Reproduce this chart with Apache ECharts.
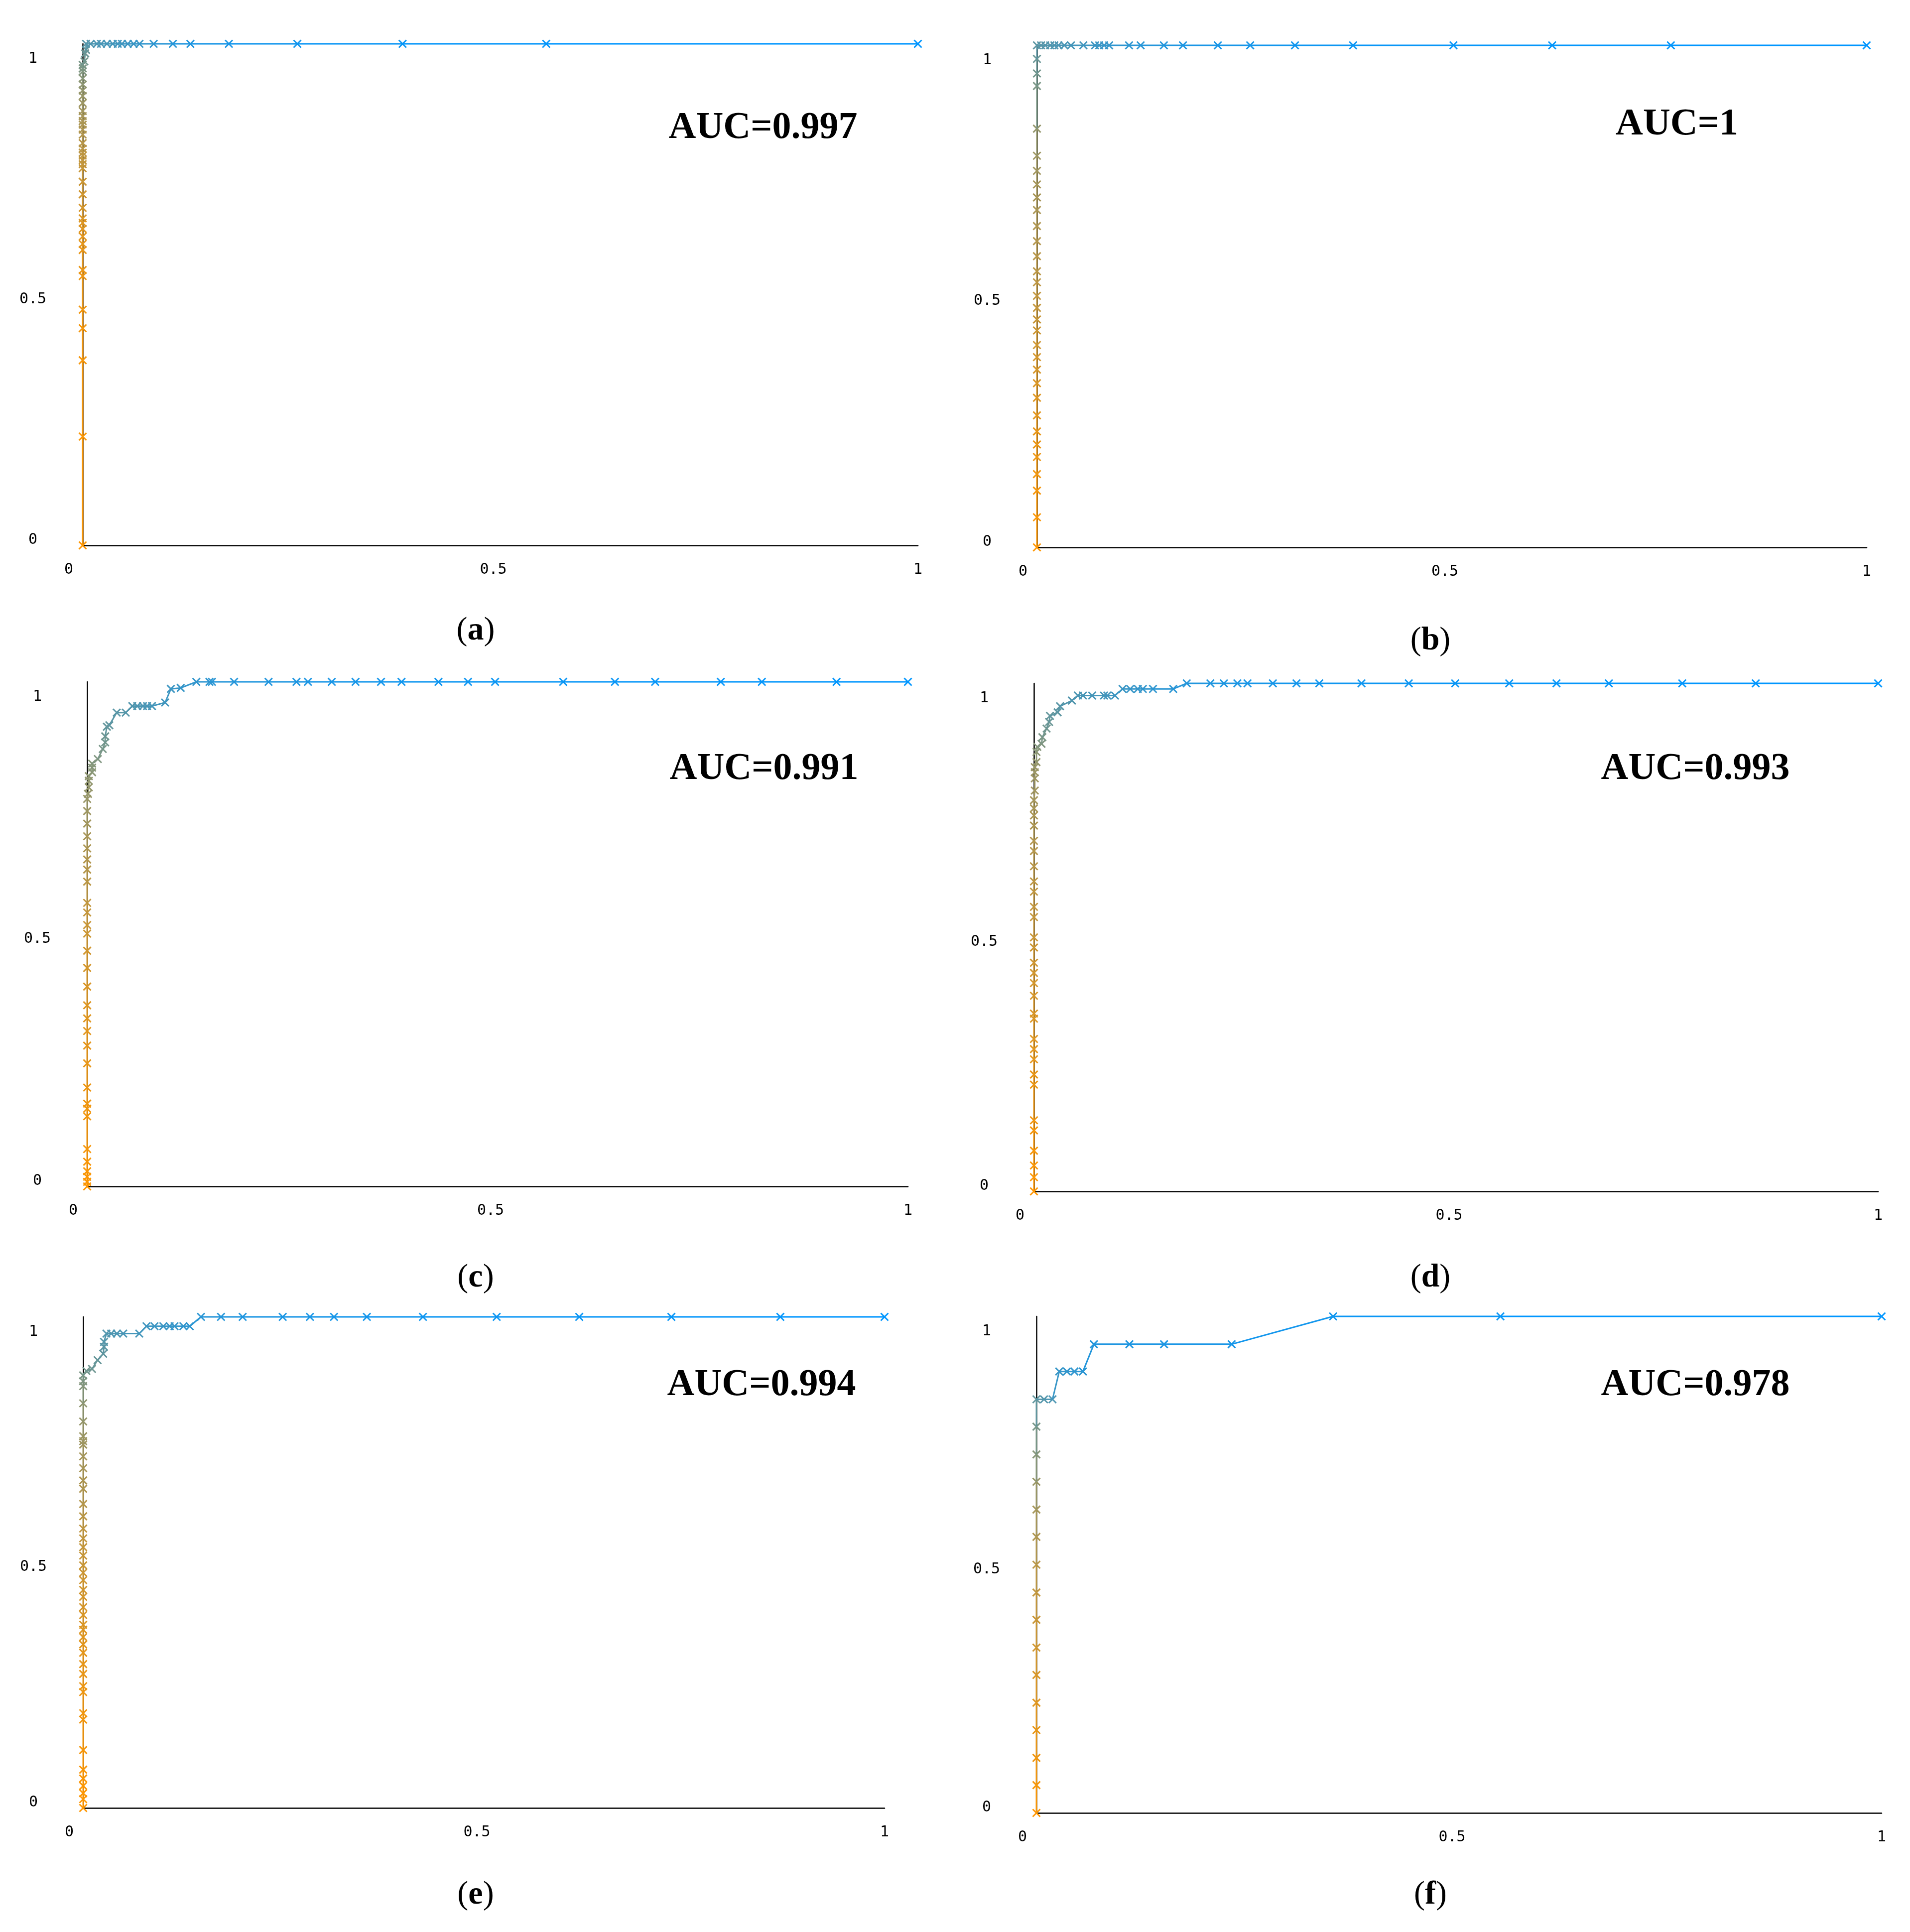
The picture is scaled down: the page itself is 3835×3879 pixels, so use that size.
<!DOCTYPE html>
<html><head><meta charset="utf-8">
<script src="https://cdn.jsdelivr.net/npm/echarts/dist/echarts.min.js"></script>
<style>html,body{margin:0;padding:0;background:#fff}#c{width:3835px;height:3879px}</style>
</head><body><div id="c"></div>
<script>
// ---------------- data ----------------
const aucLabels = ['AUC=0.997','AUC=1','AUC=0.991','AUC=0.993','AUC=0.994','AUC=0.978'];
const panelLetters = ['a','b','c','d','e','f'];
const tickValues = [0, 0.5, 1];

// (a)
const aFpr = [0,0,0,0,0,0,0,0,0,0, 0,0,0,0,0,0,0,0,0,0, 0,0,0,0,0,0,0,0,0,0, 0,0,0,0,0,0,0,
  0.002,0.003,0.004,
  0.004,0.0095,0.017,0.022,0.029,0.036,0.042,0.047,0.054,0.061,0.068,0.085,0.108,0.129,0.175,0.257,0.383,0.555,1];
const aTpr = [0,0.217,0.369,0.433,0.470,0.537,0.549,0.589,0.601,0.616, 0.631,0.643,0.652,0.673,0.700,0.725,0.752,0.760,0.768,0.777,
  0.783,0.791,0.802,0.819,0.829,0.839,0.846,0.856,0.866,0.882, 0.896,0.907,0.919,0.931,0.945,0.951,0.958,
  0.965,0.981,0.988,
  1,1,1,1,1,1,1,1,1,1,1,1,1,1,1,1,1,1,1];
const aThr = [1,0.99,0.97,0.96,0.95,0.93,0.92,0.91,0.90,0.89, 0.88,0.87,0.86,0.84,0.82,0.80,0.78,0.77,0.76,0.75,
  0.74,0.73,0.72,0.70,0.69,0.68,0.67,0.66,0.64,0.62, 0.60,0.58,0.56,0.54,0.51,0.49,0.47,
  0.45,0.42,0.40,
  0.34,0.32,0.30,0.29,0.28,0.27,0.26,0.25,0.24,0.23,0.22,0.19,0.16,0.13,0.10,0.07,0.04,0.02,0];

// (b)
const bFpr = [0,0,0,0,0,0,0,0,0,0, 0,0,0,0,0,0,0,0,0,0, 0,0,0,0,0,0,0,0,0,0, 0,
  0,0.005,0.010,0.016,0.021,0.026,0.033,0.041,0.056,0.070, 0.075,0.081,0.087,0.111,0.125,0.153,0.176,0.218,0.257,0.311,
  0.381,0.502,0.621,0.764,1];
const bTpr = [0,0.06,0.113,0.146,0.18,0.205,0.231,0.263,0.298,0.327, 0.354,0.379,0.403,0.432,0.454,0.477,0.501,0.528,0.55,0.58,
  0.61,0.64,0.672,0.697,0.723,0.750,0.780,0.834,0.919,0.944, 0.973,
  1,1,1,1,1,1,1,1,1,1, 1,1,1,1,1,1,1,1,1,1, 1,1,1,1,1];
const bThr = [1,0.98,0.96,0.95,0.93,0.92,0.91,0.89,0.87,0.86, 0.84,0.83,0.81,0.80,0.78,0.77,0.76,0.74,0.73,0.72,
  0.70,0.69,0.67,0.66,0.65,0.63,0.62,0.58,0.48,0.45, 0.41,
  0.36,0.34,0.33,0.32,0.31,0.30,0.29,0.28,0.26,0.24, 0.23,0.22,0.21,0.18,0.16,0.14,0.12,0.10,0.09,0.07,
  0.05,0.03,0.02,0.01,0];

// (c)
const cFpr = [0,0,0,0,0,0,0,0,0,0, 0,0,0,0,0,0,0,0,0,0, 0,0,0,0,0,0,0,0,0,0,
  0.001,0.002,0.002,0.002,0.006,0.006,0.006,0.013,0.019,0.022, 0.022,0.024,0.027,0.036,0.047,0.055,0.061,0.068,0.073,0.079,
  0.095,0.102,0.114,
  0.133,0.149,0.152,0.179,0.221,0.255,0.269,0.298,0.327,0.358, 0.383,0.428,0.464,0.497,0.580,0.643,0.692,0.772,0.822,0.913, 1];
const cTpr = [0,0.009,0.019,0.030,0.049,0.074,0.139,0.154,0.164,0.196, 0.244,0.279,0.308,0.333,0.359,0.396,0.433,0.467,0.501,0.518,
  0.543,0.562,0.604,0.628,0.648,0.670,0.694,0.719,0.744,0.768,
  0.778,0.791,0.804,0.813,0.821,0.830,0.838,0.847,0.867,0.880, 0.892,0.911,0.914,0.939,0.939,0.952,0.952,0.952,0.952,0.952,
  0.959,0.986,0.988,
  1,1,1,1,1,1,1,1,1,1, 1,1,1,1,1,1,1,1,1,1, 1];
const cThr = [1,0.99,0.985,0.98,0.975,0.97,0.95,0.945,0.94,0.93, 0.91,0.90,0.89,0.88,0.87,0.85,0.83,0.82,0.80,0.79,
  0.77,0.76,0.73,0.71,0.70,0.68,0.66,0.64,0.62,0.60,
  0.59,0.58,0.57,0.56,0.54,0.53,0.52,0.50,0.47,0.45, 0.43,0.39,0.38,0.35,0.34,0.32,0.31,0.30,0.29,0.28,
  0.26,0.24,0.22,
  0.20,0.18,0.17,0.15,0.13,0.12,0.11,0.10,0.09,0.08, 0.07,0.06,0.05,0.045,0.04,0.03,0.025,0.02,0.015,0.01, 0];

// (d)
const dFpr = [0,0,0,0,0,0,0,0,0,0, 0,0,0,0,0,0,0,0,0,0, 0,0,0,0,0,0,0,0,0,0,
  0.001,0.001,0.001,0.001,0.003,0.003,0.004,0.009,0.010,0.015, 0.018,0.019,0.028,0.031,0.045,0.052,0.058,0.069,0.083,0.087,
  0.096,0.105,0.114,0.123,0.129,0.141,0.165,
  0.181,0.209,0.225,0.241,0.253,0.283,0.311,0.338,0.388,0.444, 0.499,0.563,0.619,0.681,0.768,0.855,1];
const dTpr = [0,0.028,0.051,0.080,0.12,0.14,0.21,0.23,0.26,0.28, 0.30,0.34,0.35,0.385,0.41,0.43,0.45,0.48,0.50,0.54,
  0.56,0.59,0.61,0.64,0.67,0.69,0.72,0.74,0.754,0.770,
  0.789,0.813,0.825,0.835,0.845,0.865,0.875,0.881,0.894,0.911, 0.924,0.936,0.943,0.955,0.966,0.976,0.976,0.976,0.976,0.976,
  0.976,0.989,0.989,0.989,0.989,0.989,0.989,
  1,1,1,1,1,1,1,1,1,1, 1,1,1,1,1,1,1];
const dThr = [1,0.99,0.98,0.97,0.96,0.95,0.92,0.91,0.90,0.89, 0.88,0.86,0.85,0.84,0.83,0.82,0.81,0.80,0.79,0.77,
  0.76,0.75,0.74,0.72,0.71,0.70,0.68,0.67,0.66,0.65,
  0.63,0.62,0.61,0.60,0.58,0.55,0.52,0.50,0.48,0.44, 0.41,0.39,0.37,0.35,0.32,0.30,0.29,0.28,0.27,0.26,
  0.25,0.23,0.22,0.21,0.20,0.19,0.17,
  0.15,0.13,0.12,0.11,0.10,0.09,0.08,0.07,0.06,0.05, 0.04,0.03,0.025,0.02,0.01,0.005,0];

// (e)
const eFpr = [0,0,0,0,0,0,0,0,0,0, 0,0,0,0,0,0,0,0,0,0, 0,0,0,0,0,0,0,0,0,0, 0,0,0,0,0,0,0,0,0,0, 0,0,0,
  0.004,0.011,0.018,0.025,0.026,0.026,0.029,0.035,0.042,0.050, 0.070,0.079,0.089,0.100,0.108,0.114,0.125,0.133,
  0.147,0.172,0.199,0.249,0.283,0.313,0.354,0.424,0.516,0.619, 0.734,0.870,1];
const eTpr = [0,0.018,0.03,0.045,0.06,0.078,0.118,0.18,0.193,0.236, 0.248,0.273,0.293,0.316,0.333,0.348,0.363,0.373,0.393,0.409,
  0.43,0.444,0.464,0.479,0.494,0.514,0.531,0.549,0.569,0.594, 0.619,0.65,0.667,0.692,0.716,0.740,0.747,0.757,0.787,0.824,
  0.859,0.869,0.881,
  0.890,0.894,0.912,0.925,0.939,0.949,0.966,0.966,0.966,0.966, 0.966,0.981,0.981,0.981,0.981,0.981,0.981,0.981,
  1,1,1,1,1,1,1,1,1,1, 1,1,1];
const eThr = [1,0.995,0.99,0.985,0.98,0.975,0.965,0.95,0.945,0.93, 0.925,0.915,0.905,0.895,0.885,0.875,0.865,0.86,0.85,0.84,
  0.83,0.82,0.81,0.80,0.79,0.78,0.77,0.76,0.75,0.73, 0.71,0.69,0.68,0.66,0.65,0.63,0.62,0.61,0.59,0.56,
  0.52,0.50,0.48,
  0.45,0.43,0.40,0.38,0.36,0.34,0.32,0.31,0.30,0.29, 0.27,0.25,0.24,0.23,0.22,0.21,0.20,0.19,
  0.17,0.15,0.13,0.11,0.10,0.09,0.08,0.06,0.05,0.04, 0.03,0.015,0];

// (f)
const fFpr = [0,0,0,0,0,0,0,0,0,0, 0,0,0,0,0,0, 0.009,0.019, 0.027,0.036,0.045,0.055, 0.068,0.110,0.151,0.231, 0.351,0.549,1];
const fTpr = [0,0.056,0.111,0.167,0.222,0.278,0.333,0.389,0.444,0.5, 0.556,0.611,0.667,0.722,0.778,0.833, 0.833,0.833,
  0.889,0.889,0.889,0.889, 0.944,0.944,0.944,0.944, 1,1,1];
const fThr = [1,0.97,0.94,0.91,0.88,0.85,0.82,0.79,0.76,0.73, 0.69,0.65,0.60,0.53,0.47,0.38, 0.33,0.30,
  0.22,0.20,0.19,0.18, 0.14,0.12,0.11,0.10, 0.07,0.04,0];

const curves = [[aFpr,aTpr,aThr],[bFpr,bTpr,bThr],[cFpr,cTpr,cThr],[dFpr,dTpr,dThr],[eFpr,eTpr,eThr],[fFpr,fTpr,fThr]];

// ---------------- layout (pixels) ----------------
const layout = [
  {x0:166,  x1:1843, y1:88,   y0:1095, auc:[1532,257],  lab:[955,1267]},
  {x0:2082, x1:3748, y1:91,   y0:1099, auc:[3367,250],  lab:[2872,1287]},
  {x0:175,  x1:1823, y1:1369, y0:2382, auc:[1534,1544], lab:[955,2566]},
  {x0:2076, x1:3771, y1:1372, y0:2392, auc:[3404,1544], lab:[2872,2566]},
  {x0:167,  x1:1776, y1:2644, y0:3630, auc:[1529,2781], lab:[955,3805]},
  {x0:2081, x1:3778, y1:2643, y0:3640, auc:[3404,2781], lab:[2872,3805]}
];

const LW = 3, MW = 3, MS = 7.5;
function renderItem(params, api) {
  const i = params.dataIndexInside;
  const p = api.coord([api.value(0), api.value(1)]);
  const c = api.visual('color');
  const ch = [];
  if (i > 0) {
    const q = api.coord([api.value(0, i - 1), api.value(1, i - 1)]);
    ch.push({type:'line', shape:{x1:q[0], y1:q[1], x2:p[0], y2:p[1]}, style:{stroke:c, lineWidth:LW}});
  }
  ch.push({type:'line', shape:{x1:p[0]-MS, y1:p[1]-MS, x2:p[0]+MS, y2:p[1]+MS}, style:{stroke:c, lineWidth:MW}});
  ch.push({type:'line', shape:{x1:p[0]-MS, y1:p[1]+MS, x2:p[0]+MS, y2:p[1]-MS}, style:{stroke:c, lineWidth:MW}});
  return {type:'group', children: ch};
}

const grid = [], xAxis = [], yAxis = [], series = [], title = [];
const labelFont = {fontFamily:'DejaVu Sans Mono', fontSize:30, color:'#000'};
layout.forEach((L, p) => {
  grid.push({left:L.x0, top:L.y1, width:L.x1 - L.x0, height:L.y0 - L.y1});
  const axLine = {show:true, onZero:false, lineStyle:{color:'#000', width:2.5}};
  xAxis.push({gridIndex:p, type:'value', min:0, max:1, interval:0.5, axisLine:axLine,
    axisTick:{show:false}, axisLabel:{show:false}, splitLine:{show:false}});
  yAxis.push({gridIndex:p, type:'value', min:0, max:1, interval:0.5, axisLine:axLine,
    axisTick:{show:false}, axisLabel:{show:false}, splitLine:{show:false}});
  const [fx, ty, th] = curves[p];
  series.push({type:'custom', coordinateSystem:'cartesian2d', xAxisIndex:p, yAxisIndex:p,
    clip:false, renderItem, encode:{x:0, y:1},
    data: fx.map((f, i) => [f, ty[i], th[i]])});
  title.push({text:aucLabels[p], left:L.auc[0], top:L.auc[1], padding:0,
    textAlign:'center', textVerticalAlign:'middle',
    textStyle:{fontFamily:'Liberation Serif', fontWeight:'bold', fontSize:76, color:'#000'}});
  title.push({text:'{n|(}{b|' + panelLetters[p] + '}{n|)}', left:L.lab[0], top:L.lab[1], padding:0,
    textAlign:'center', textVerticalAlign:'middle',
    textStyle:{fontWeight:'normal', fontFamily:'Liberation Serif', fontSize:66,
      rich:{n:{fontFamily:'Liberation Serif', fontSize:66, fontWeight:'normal', color:'#000'},
            b:{fontFamily:'Liberation Serif', fontSize:66, fontWeight:'bold', color:'#000'}}}});
});
// label grids (tick labels only)
layout.forEach((L, p) => {
  const g = grid.length;
  const left = L.x0 - 28, top = L.y1 + 30, bottom = L.y0 - 11;
  grid.push({left:left, top:top, width:L.x1 - left, height:bottom - top});
  xAxis.push({gridIndex:g, type:'value', min:0, max:1, interval:0.5, axisLine:{show:false},
    axisTick:{show:false}, splitLine:{show:false},
    axisLabel:Object.assign({show:true, margin:60, verticalAlign:'middle',
      customValues: tickValues, showMinLabel:true, showMaxLabel:true}, labelFont)});
  yAxis.push({gridIndex:g, type:'value', min:0, max:1, interval:0.5, axisLine:{show:false},
    axisTick:{show:false}, splitLine:{show:false},
    axisLabel:Object.assign({show:true, margin:72, align:'center',
      customValues: tickValues, showMinLabel:true, showMaxLabel:true}, labelFont)});
});

const chart = echarts.init(document.getElementById('c'), null, {renderer:'canvas'});
chart.setOption({
  animation:false,
  backgroundColor:'#fff',
  title, grid, xAxis, yAxis, series,
  visualMap:[{type:'continuous', show:false, dimension:2, min:0, max:1,
    seriesIndex:[0,1,2,3,4,5], inRange:{color:['rgb(0,150,255)','rgb(255,150,0)']}}]
});
</script></body></html>
